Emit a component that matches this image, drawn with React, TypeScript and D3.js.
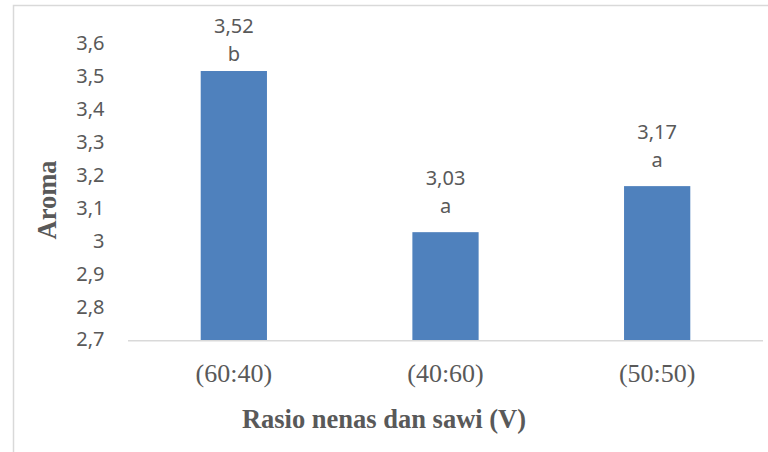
import React, { useEffect, useRef } from 'react';
import * as d3 from 'd3';

const categories = ['(60:40)', '(40:60)', '(50:50)'];
const aromaValues = [3.52, 3.03, 3.17];
const letters = ['b', 'a', 'a'];
const yTicks = [2.7, 2.8, 2.9, 3.0, 3.1, 3.2, 3.3, 3.4, 3.5, 3.6];

const W = 768;
const H = 452;

const fmt = (v: number) => {
  const s = String(Math.round(v * 100) / 100);
  return s.replace('.', ',');
};

export default function App() {
  const ref = useRef<SVGSVGElement>(null);

  useEffect(() => {
    document.body.style.margin = '0';
    if (!ref.current) return;
    const svg = d3.select(ref.current);
    svg.selectAll('*').remove();

    const left = 128, right = 763, top = 44.7, bottom = 340.7;
    const sans = "'Noto Sans', 'Open Sans', sans-serif";
    const serif = "'Liberation Serif', 'Times New Roman', serif";
    const grey = '#595959';

    // chart frame
    svg.append('rect')
      .attr('x', 13.5).attr('y', 5.5)
      .attr('width', W).attr('height', H)
      .attr('fill', 'none').attr('stroke', '#d9d9d9').attr('stroke-width', 1.5);

    const x = d3.scaleBand<string>()
      .domain(categories)
      .range([left, right])
      .paddingInner(0.687)
      .paddingOuter(0.3435);

    const y = d3.scaleLinear().domain([2.7, 3.6]).range([bottom, top]);

    // y tick labels
    svg.append('g')
      .selectAll('text')
      .data(yTicks)
      .enter()
      .append('text')
      .attr('x', 104.5)
      .attr('y', (d) => y(d) - 1.5)
      .attr('dy', '0.36em')
      .attr('text-anchor', 'end')
      .style('font-family', sans)
      .style('font-size', '20px')
      .style('fill', grey)
      .text((d) => fmt(d));

    // bars
    svg.append('g')
      .selectAll('rect')
      .data(aromaValues)
      .enter()
      .append('rect')
      .attr('x', (_, i) => x(categories[i])!)
      .attr('y', (d) => y(d))
      .attr('width', x.bandwidth())
      .attr('height', (d) => bottom - y(d))
      .attr('fill', '#4f81bd');

    // x axis line
    svg.append('line')
      .attr('x1', left).attr('x2', right)
      .attr('y1', bottom).attr('y2', bottom)
      .attr('stroke', '#d9d9d9').attr('stroke-width', 1.5);

    // data labels
    const labels = svg.append('g');
    aromaValues.forEach((v, i) => {
      const cx = x(categories[i])! + x.bandwidth() / 2;
      const base1 = Math.max(y(v) - 47, 33);
      labels.append('text')
        .attr('x', cx).attr('y', base1)
        .attr('text-anchor', 'middle')
        .style('font-family', sans).style('font-size', '20px').style('fill', grey)
        .text(fmt(v));
      labels.append('text')
        .attr('x', cx).attr('y', base1 + 28)
        .attr('text-anchor', 'middle')
        .style('font-family', sans).style('font-size', '20px').style('fill', grey)
        .text(letters[i]);
    });

    // x tick labels
    svg.append('g')
      .selectAll('text')
      .data(categories)
      .enter()
      .append('text')
      .attr('x', (d) => x(d)! + x.bandwidth() / 2)
      .attr('y', 381.5)
      .attr('text-anchor', 'middle')
      .style('font-family', serif)
      .style('font-size', '26px')
      .style('fill', grey)
      .text((d) => d);

    // axis titles
    svg.append('text')
      .attr('x', 384).attr('y', 428)
      .attr('text-anchor', 'middle')
      .style('font-family', serif).style('font-size', '26.5px').style('font-weight', 'bold')
      .style('fill', grey)
      .text('Rasio nenas dan sawi (V)');

    svg.append('text')
      .attr('transform', 'translate(56,200) rotate(-90)')
      .attr('text-anchor', 'middle')
      .style('font-family', serif).style('font-size', '26.5px').style('font-weight', 'bold')
      .style('fill', grey)
      .text('Aroma');
  }, []);

  return <svg ref={ref} width={W} height={H} style={{ display: 'block', background: '#fff' }} />;
}
